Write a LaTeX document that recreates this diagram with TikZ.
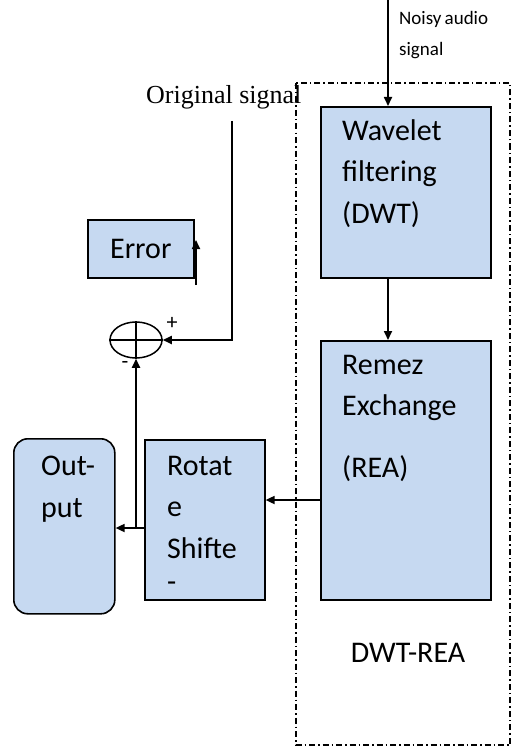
\documentclass[tikz,border=0pt]{standalone}
\usepackage{fontspec}
\usepackage{tikz}
\usetikzlibrary{arrows.meta, positioning, calc, shapes.geometric}
\newfontfamily\calib{Carlito}
\newfontfamily\timesf{Liberation Serif}
\definecolor{boxblue}{HTML}{C6D9F1}

\tikzset{
  blk/.style={draw, fill=boxblue, line width=1.6pt, inner sep=0pt},
  txt/.style={font=\calib\fontsize{30}{41.5}\selectfont, align=left, inner sep=0pt},
  arr/.style={line width=1.7pt, -{Triangle[length=9pt, width=8pt]}},
  frame/.style={line width=1.5pt, dash pattern=on 6pt off 3pt on 1.5pt off 3pt}
}

\begin{document}
\begin{tikzpicture}[x=1pt, y=-1pt]
\useasboundingbox (0,0) rectangle (512,749);
% DWT-REA frame
\draw[frame] (296,83) rectangle (510,745);
% blocks
\node[blk, anchor=north west, minimum width=170pt, minimum height=171pt] (wav) at (320,106) {};
\node[blk, anchor=north west, minimum width=170pt, minimum height=259pt] (rem) at (320,340) {};
\node[blk, anchor=north west, minimum width=120pt, minimum height=160pt] (rot) at (144,439) {};
\node[blk, anchor=north west, minimum width=101pt, minimum height=175pt, rounded corners=14pt] (out) at (13,438) {};
\node[blk, anchor=north west, minimum width=106pt, minimum height=58pt] (err) at (87,219) {};
\node[draw, line width=1.5pt, ellipse, minimum width=52pt, minimum height=36pt, inner sep=0pt] (sum) at (136,340) {};
\draw[line width=1.3pt] (sum.north) -- (sum.south);
\draw[line width=1.3pt] (sum.west) -- (sum.east);
% texts
\node[txt, anchor=north west] (wavtxt) at (342,119) {Wavelet\\filtering\\(DWT)};
\node[txt, anchor=north west] (remtxt) at (342,355) {Remez\\Exchange\\[20pt](REA)};
\node[txt, anchor=north west] (rottxt) at (167,456) {Rotat\\e\\Shifte\\[-8pt]-};
\node[txt, anchor=north west] (outtxt) at (41,456) {Out-\\put};
\node[txt] (errtxt) at (err.center) {Error};
\node[txt] (dwtrea) at (408,653) {DWT-REA};
\node[font=\calib\fontsize{19}{31}\selectfont, align=left, inner sep=0pt, anchor=north west] (noisy) at (399,11) {Noisy\,audio\\signal};
\node[font=\timesf\fontsize{26}{28}\selectfont, inner sep=0pt, anchor=base west] (origtxt) at (146,104) {Original\ signal};
\node[font=\calib\fontsize{22}{24}\selectfont, inner sep=0pt] (plus) at (172,323) {+};
\node[font=\calib\fontsize{22}{24}\selectfont, inner sep=0pt] (minus) at (125,365) {-};
% connectors
\coordinate (nin) at (388,0);
\coordinate (orig) at (232,121);
\coordinate (rr) at (320,500);
\coordinate (tap) at (136,528);
\coordinate (ebot) at (196,285);
\coordinate (etop) at (196,240);
\draw[arr] (nin) -- (nin |- wav.north);
\draw[arr] (wav.south -| nin) -- (rem.north -| nin);
\draw[arr] (rr) -- (rr -| rot.east);
\draw[arr] (tap -| rot.west) -- (tap -| out.east);
\draw[arr] (tap) -- (sum.south);
\draw[arr] (orig) |- (sum.east);
\draw[arr] (ebot) -- (etop);
\end{tikzpicture}
\end{document}
